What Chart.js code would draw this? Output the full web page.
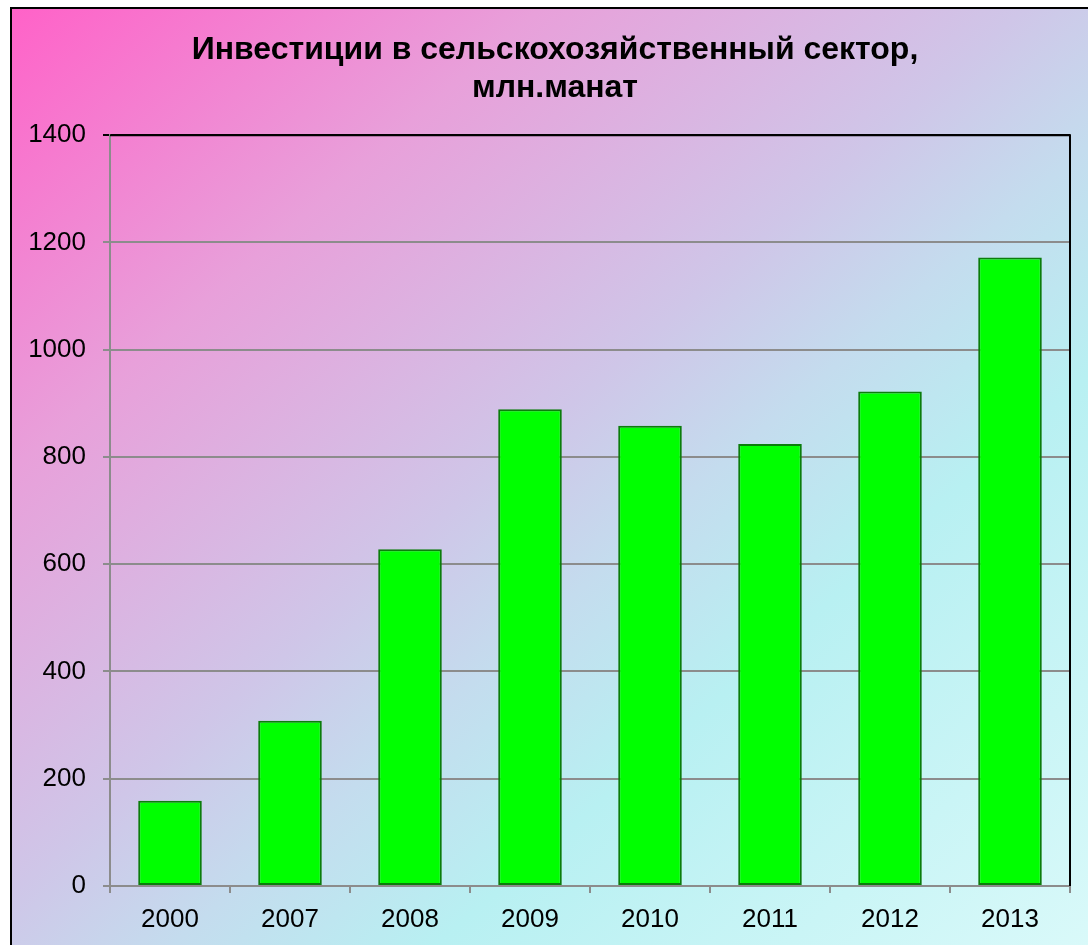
<!DOCTYPE html>
<html>
<head>
<meta charset="utf-8">
<title>Инвестиции в сельскохозяйственный сектор</title>
<script src="https://cdn.jsdelivr.net/npm/chart.js@4/dist/chart.umd.min.js"></script>
<style>
    html, body {
        margin: 0;
        padding: 0;
        width: 1088px;
        height: 945px;
        overflow: hidden;
        background: #ffffff;
    }
    #frame {
        position: absolute;
        left: 10px;
        top: 7px;
        width: 1100px;
        height: 960px;
        border: 2px solid #000000;
        background: linear-gradient(to bottom right, #ff62c8 0%, #e8a0da 24%, #cfc6e8 46%, #c4dcee 56%, #b8f0f2 68%, #dcfafa 100%);
    }
    #chartCanvas {
        position: absolute;
        left: 0;
        top: 0;
    }
</style>
</head>
<body>
<div id="frame"></div>
<canvas id="chartCanvas" width="1088" height="945"></canvas>
<script>
const years = ['2000', '2007', '2008', '2009', '2010', '2011', '2012', '2013'];
const investments = [159, 308, 628, 889, 858, 824, 922, 1172];
const titleLines = ['Инвестиции в сельскохозяйственный сектор,', 'млн.манат'];
const yMin = 0;
const yMax = 1400;
const yStep = 200;

const gridGray = '#8c8c8c';
const fontFamily = 'Liberation Sans, Arial, sans-serif';

// black frame on top and right of the plot area
const plotFrame = {
    id: 'plotFrame',
    afterLayout(chart) {
        // title sits a bit right of the canvas centre in the original
        if (chart.titleBlock) {
            chart.titleBlock.left += 40;
        }
    },
    beforeDatasetsDraw(chart) {
        const { ctx, chartArea } = chart;
        ctx.save();
        ctx.strokeStyle = '#000000';
        ctx.lineWidth = 2;
        ctx.beginPath();
        ctx.moveTo(chartArea.left, chartArea.top);
        ctx.lineTo(chartArea.right, chartArea.top);
        ctx.lineTo(chartArea.right, chartArea.bottom);
        ctx.stroke();
        ctx.restore();
    }
};

function createChart() {
    const ctx = document.getElementById('chartCanvas').getContext('2d');

    new Chart(ctx, {
        type: 'bar',
        data: {
            labels: years,
            datasets: [{
                label: 'Инвестиции',
                data: investments,
                backgroundColor: '#00ff00',
                borderColor: '#0b7d0b',
                borderWidth: 2,
                borderSkipped: false,
                barPercentage: 0.53,
                categoryPercentage: 1.0
            }]
        },
        options: {
            responsive: false,
            animation: false,
            layout: {
                padding: { left: 0, right: 18, top: 0, bottom: 0 }
            },
            plugins: {
                legend: { display: false },
                tooltip: { enabled: false },
                title: {
                    display: true,
                    text: titleLines,
                    color: '#000000',
                    font: { family: fontFamily, size: 32, weight: 'bold', lineHeight: 1.19 },
                    padding: { top: 31, bottom: 28 }
                }
            },
            scales: {
                x: {
                    offset: true,
                    grid: {
                        offset: true,
                        drawOnChartArea: false,
                        drawTicks: true,
                        tickLength: 7,
                        color: gridGray,
                        lineWidth: 2
                    },
                    border: { color: gridGray, width: 2 },
                    ticks: {
                        color: '#000000',
                        padding: 11,
                        font: { family: fontFamily, size: 26 }
                    },
                    afterFit(scale) {
                        scale.height = 59;
                    }
                },
                y: {
                    min: yMin,
                    max: yMax,
                    grid: {
                        color: (c) => (c.tick && c.tick.value === yMax ? '#000000' : gridGray),
                        lineWidth: 2,
                        tickLength: 7
                    },
                    border: { color: gridGray, width: 2 },
                    ticks: {
                        stepSize: yStep,
                        color: '#000000',
                        padding: 17,
                        font: { family: fontFamily, size: 26 },
                        callback: (value) => String(value)
                    },
                    afterFit(scale) {
                        scale.width = 110;
                    }
                }
            }
        },
        plugins: [plotFrame]
    });
}

document.addEventListener('DOMContentLoaded', createChart);
</script>
</body>
</html>
